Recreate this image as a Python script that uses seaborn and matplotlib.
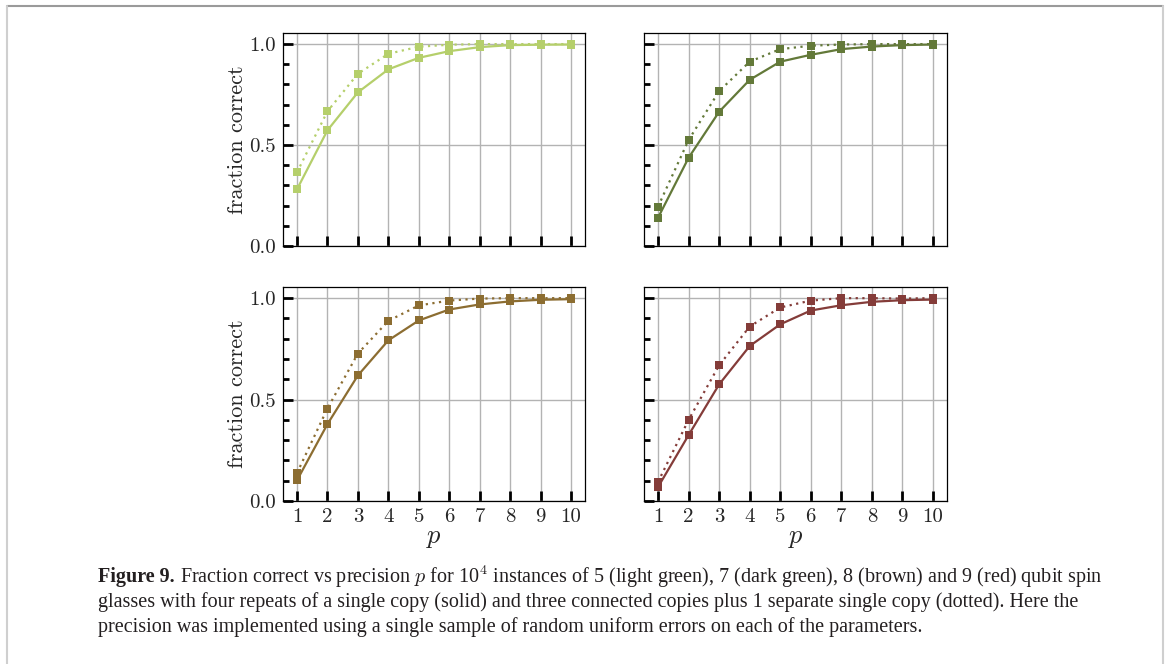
import numpy as np
import pandas as pd
import matplotlib
matplotlib.use("Agg")
import matplotlib.pyplot as plt
import seaborn as sns
from matplotlib.lines import Line2D
from matplotlib.ticker import MultipleLocator, FixedLocator

# ---------------- data ----------------
p_values = [1, 2, 3, 4, 5, 6, 7, 8, 9, 10]

light_green_solid = [0.281, 0.573, 0.761, 0.875, 0.932, 0.965, 0.985, 0.995, 0.997, 0.998]
light_green_dotted = [0.365, 0.667, 0.853, 0.952, 0.987, 0.997, 1.0, 1.0, 1.0, 1.0]

dark_green_solid = [0.140, 0.437, 0.665, 0.823, 0.913, 0.947, 0.975, 0.988, 0.995, 0.998]
dark_green_dotted = [0.195, 0.525, 0.767, 0.913, 0.975, 0.992, 0.998, 1.0, 1.0, 1.0]

brown_solid = [0.102, 0.379, 0.619, 0.792, 0.890, 0.944, 0.969, 0.984, 0.992, 0.995]
brown_dotted = [0.138, 0.456, 0.727, 0.888, 0.964, 0.988, 0.998, 1.0, 1.0, 1.0]

red_solid = [0.069, 0.325, 0.575, 0.764, 0.871, 0.939, 0.965, 0.982, 0.990, 0.993]
red_dotted = [0.094, 0.400, 0.669, 0.860, 0.954, 0.988, 1.0, 1.0, 0.998, 1.0]

panel_names = ["light green", "dark green", "brown", "red"]
panel_colors = ["#b5cf6b", "#637939", "#8c6d31", "#843c39"]
panel_solid = [light_green_solid, dark_green_solid, brown_solid, red_solid]
panel_dotted = [light_green_dotted, dark_green_dotted, brown_dotted, red_dotted]

y_tick_values = [0.0, 0.5, 1.0]
y_tick_labels = ["0.0", "0.5", "1.0"]
x_tick_labels = [str(v) for v in p_values]

caption_bold = "Figure 9."
caption_lines = [
    " Fraction correct vs precision $\\it{p}$ for 10$^4$ instances of 5 (light green), 7 (dark green), 8 (brown) and 9 (red) qubit spin",
    "glasses with four repeats of a single copy (solid) and three connected copies plus 1 separate single copy (dotted). Here the",
    "precision was implemented using a single sample of random uniform errors on each of the parameters.",
]

# ---------------- style ----------------
sns.set_theme(style="white")
plt.rcParams["font.family"] = ["cmr10", "DejaVu Serif"]
plt.rcParams["mathtext.fontset"] = "cm"
plt.rcParams["axes.formatter.use_mathtext"] = True

W, H = 1170, 664
fig = plt.figure(figsize=(W / 100, H / 100), dpi=100)
fig.patch.set_facecolor("white")

def px_axes(left, top, right, bottom):
    return fig.add_axes([left / W, 1 - bottom / H, (right - left) / W, (bottom - top) / H])

boxes = [(283, 33, 585, 246), (644, 33, 947, 246), (283, 287, 585, 501), (644, 287, 947, 501)]

for i, (box, color, solid, dotted) in enumerate(zip(boxes, panel_colors, panel_solid, panel_dotted)):
    ax = px_axes(*box)
    df = pd.DataFrame({
        "p": p_values * 2,
        "fraction": solid + dotted,
        "copies": ["solid"] * len(p_values) + ["dotted"] * len(p_values),
    })
    ax.grid(True, which="major", color="#b3b3b3", linewidth=1.0, zorder=0)
    ax.set_axisbelow(True)
    sns.lineplot(data=df[df.copies == "solid"], x="p", y="fraction", ax=ax, color=color,
                 linewidth=1.6, marker="s", markersize=5.5, markeredgewidth=0,
                 linestyle="-", zorder=3)
    sns.lineplot(data=df[df.copies == "dotted"], x="p", y="fraction", ax=ax, color=color,
                 linewidth=1.6, marker="s", markersize=5.5, markeredgewidth=0,
                 linestyle=(0, (1, 2)), zorder=3)
    ax.set_xlim(0.54, 10.46)
    ax.set_ylim(0.0, 1.055)
    ax.xaxis.set_major_locator(FixedLocator(p_values))
    ax.yaxis.set_major_locator(FixedLocator(y_tick_values))
    ax.yaxis.set_minor_locator(MultipleLocator(0.1))
    ax.tick_params(axis="both", which="both", direction="in", color="black",
                   bottom=True, left=True, top=False, right=False)
    ax.tick_params(axis="both", which="major", length=7, width=2.0, labelsize=15, pad=5)
    ax.tick_params(axis="y", which="minor", length=4, width=2.0)
    ax.tick_params(axis="x", which="minor", bottom=False)
    for s in ax.spines.values():
        s.set_visible(True)
        s.set_color("black")
        s.set_linewidth(0.9)
    if i % 2 == 0:
        ax.set_yticklabels(y_tick_labels)
        ax.set_ylabel("fraction correct", fontsize=16, labelpad=2)
    else:
        ax.set_yticklabels([])
        ax.set_ylabel("")
    if i >= 2:
        ax.set_xticklabels(x_tick_labels)
        ax.set_xlabel("$p$", fontsize=19, labelpad=0)
    else:
        ax.set_xticklabels([])
        ax.set_xlabel("")

# ---------------- frame ----------------
fig.add_artist(Line2D([7 / W, 1163 / W], [1 - 6 / H, 1 - 6 / H], color="#9a9a9a", linewidth=1.5,
                      transform=fig.transFigure))
fig.add_artist(Line2D([7 / W, 7 / W], [0, 1 - 6 / H], color="#cfcfcf", linewidth=1.5,
                      transform=fig.transFigure))
fig.add_artist(Line2D([1163 / W, 1163 / W], [0, 1 - 6 / H], color="#cfcfcf", linewidth=1.5,
                      transform=fig.transFigure))

# ---------------- caption ----------------
cap_font = ["Liberation Serif", "DejaVu Serif"]
cap_size = 14.5
line_y = [577, 602, 627]
t = fig.text(98 / W, 1 - line_y[0] / H, caption_bold, fontsize=cap_size, fontweight="bold",
             family=cap_font, va="center", ha="left", color="#231f20")
fig.canvas.draw()
bb = t.get_window_extent()
fig.text(bb.x1 / W, 1 - line_y[0] / H, caption_lines[0], fontsize=cap_size, family=cap_font,
         va="center", ha="left", color="#231f20")
for ly, txt in zip(line_y[1:], caption_lines[1:]):
    fig.text(98 / W, 1 - ly / H, txt, fontsize=cap_size, family=cap_font, va="center", ha="left",
             color="#231f20")

fig.savefig("out.png", dpi=100, facecolor="white")
